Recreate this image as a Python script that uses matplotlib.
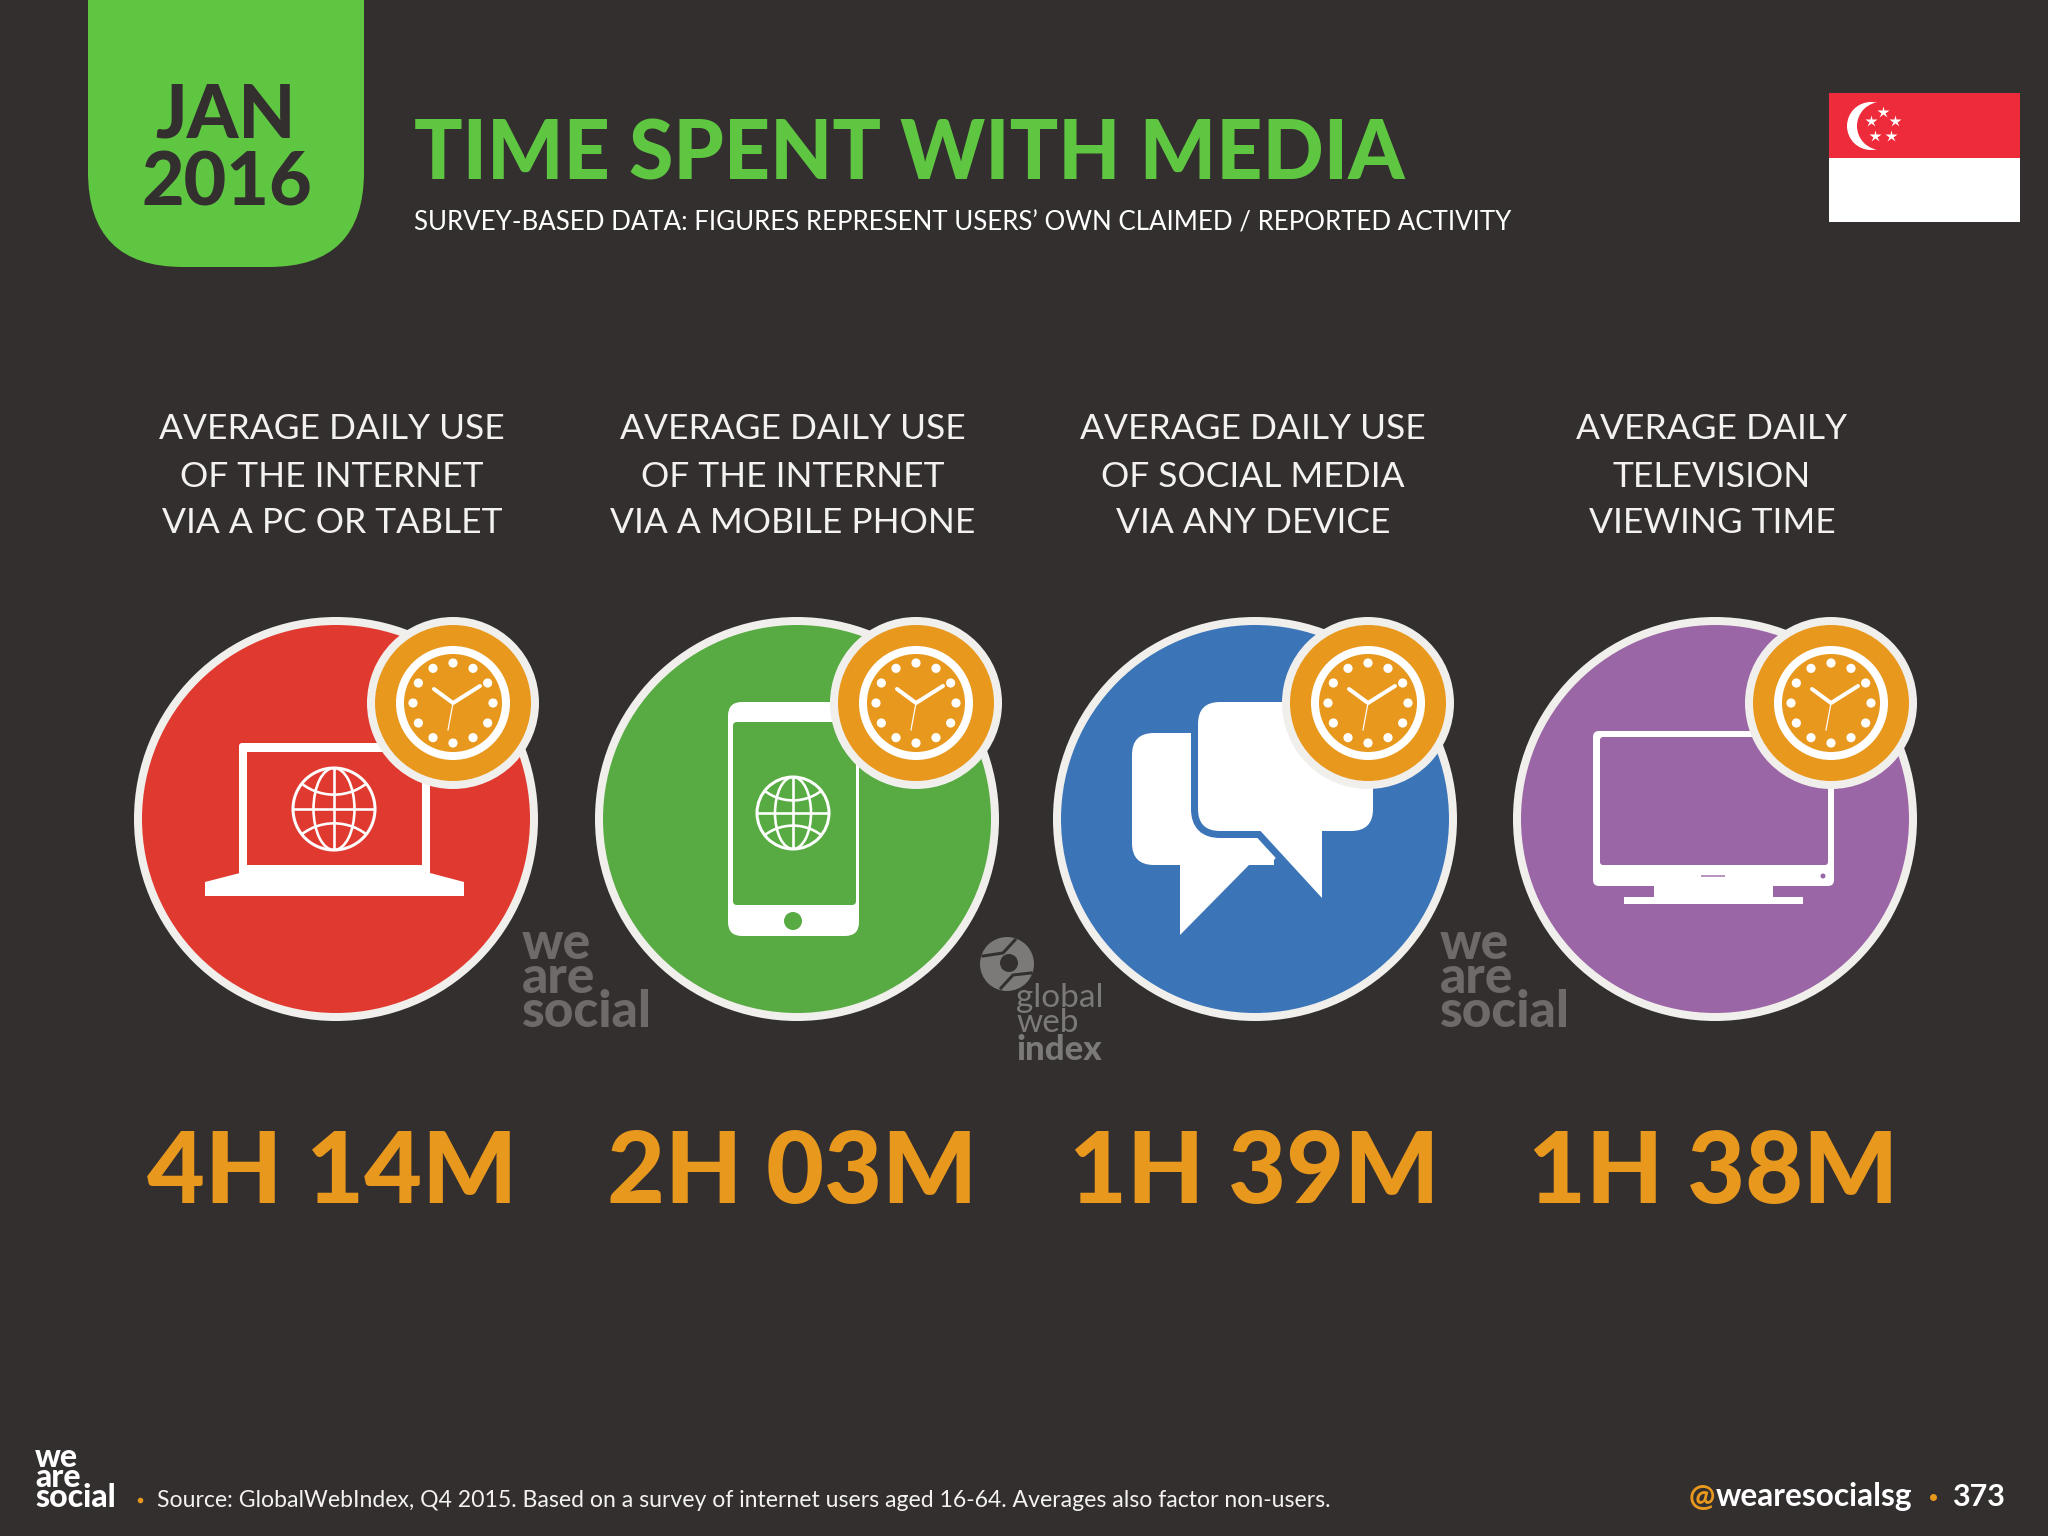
import numpy as np
import matplotlib
matplotlib.use("Agg")
import matplotlib.pyplot as plt
from matplotlib.patches import Circle, Ellipse, FancyBboxPatch, Polygon, Rectangle

plt.rcParams['font.family'] = ['Lato', 'DejaVu Sans']

# the four numbers
categories = [
    ["AVERAGE DAILY USE", "OF THE INTERNET", "VIA A PC OR TABLET"],
    ["AVERAGE DAILY USE", "OF THE INTERNET", "VIA A MOBILE PHONE"],
    ["AVERAGE DAILY USE", "OF SOCIAL MEDIA", "VIA ANY DEVICE"],
    ["AVERAGE DAILY", "TELEVISION", "VIEWING TIME"],
]
hours = [4, 2, 1, 1]
minutes = [14, 3, 39, 38]

title = "TIME SPENT WITH MEDIA"
subtitle = "SURVEY-BASED DATA: FIGURES REPRESENT USERS’ OWN CLAIMED / REPORTED ACTIVITY"
source = "Source: GlobalWebIndex, Q4 2015. Based on a survey of internet users aged 16-64. Averages also factor non-users."

BG = "#332F2F"
GREEN = "#5FC642"
ORANGE = "#E8981D"
RING = "#F1EFEC"
GREY = "#6E6A6A"
disc_colors = ["#E03A30", "#57AB42", "#3B75B8", "#9B66A6"]
disc_x = [336, 797, 1255, 1715]
clock_x = [453, 916, 1368, 1831]
text_x = [332, 793, 1253, 1712]
value_x = [332, 792, 1254, 1713]
DISC_Y = 819
CLOCK_Y = 703


def px(n):
    """line width in points from pixels, figure is 100 dpi"""
    return n * 0.72


def rrect(ax, x0, y0, x1, y1, r, color, z, **kw):
    p = FancyBboxPatch((x0, y0), x1 - x0, y1 - y0, boxstyle=f"round,pad=0,rounding_size={r}",
                       fc=color, ec=kw.pop("ec", "none"), zorder=z, **kw)
    ax.add_patch(p)
    return p


def draw_globe(ax, cx, cy, r, z):
    clip = Circle((cx, cy), r, transform=ax.transData)
    lw = px(2.6)
    parts = [
        Ellipse((cx, cy), r * 1.0, 2 * r, fc="none", ec="white", lw=lw),
        Ellipse((cx, cy - r * 1.55), 2.5 * r, 2.4 * r, fc="none", ec="white", lw=lw),
        Ellipse((cx, cy + r * 1.55), 2.5 * r, 2.4 * r, fc="none", ec="white", lw=lw),
    ]
    for p in parts:
        p.set_zorder(z)
        ax.add_patch(p)
        p.set_clip_path(clip)
    ax.plot([cx - r, cx + r], [cy, cy], color="white", lw=lw, zorder=z, solid_capstyle="butt")
    ax.plot([cx, cx], [cy - r, cy + r], color="white", lw=lw, zorder=z, solid_capstyle="butt")
    ax.add_patch(Circle((cx, cy), r, fc="none", ec="white", lw=px(3), zorder=z))


def draw_clock(ax, cx, cy):
    ax.add_patch(Circle((cx, cy), 86, fc=RING, ec="none", zorder=10))
    ax.add_patch(Circle((cx, cy), 78, fc=ORANGE, ec="none", zorder=11))
    ax.add_patch(Circle((cx, cy), 57, fc="white", ec="none", zorder=12))
    ax.add_patch(Circle((cx, cy), 49, fc=ORANGE, ec="none", zorder=13))
    for a in np.deg2rad(np.arange(0, 360, 30)):
        ax.add_patch(Circle((cx + 40 * np.cos(a), cy + 40 * np.sin(a)), 4.6, fc="white", ec="none", zorder=14))
    ax.plot([cx - 19, cx, cx + 27], [cy - 14, cy, cy - 17], color="white", lw=px(4),
            solid_capstyle="round", solid_joinstyle="miter", zorder=14)
    ax.plot([cx, cx - 5], [cy, cy + 27], color="white", lw=px(1.2), zorder=14)


def draw_laptop(ax, color):
    rrect(ax, 239, 743, 430, 880, 3, "white", 3)
    ax.add_patch(Rectangle((247, 752), 175, 113, fc=color, ec="none", zorder=4))
    ax.add_patch(Polygon([(240, 873), (430, 873), (464, 882), (464, 896), (205, 896), (205, 882)],
                         fc="white", ec="none", zorder=3))
    draw_globe(ax, 334, 809, 41, 5)


def draw_phone(ax, color):
    rrect(ax, 728, 702, 859, 936, 14, "white", 3)
    rrect(ax, 733, 722, 856, 905, 4, color, 4)
    ax.add_patch(Circle((793, 921), 9, fc=color, ec="none", zorder=5))
    draw_globe(ax, 793, 813, 36, 5)


def draw_chat(ax, color):
    rrect(ax, 1132, 733, 1280, 865, 22, "white", 3)
    ax.add_patch(Polygon([(1180, 845), (1274, 845), (1274, 865), (1249, 865), (1180, 935)],
                         fc="white", ec="none", zorder=3))
    # front bubble with an outline in the disc colour, this makes the gap to the back one
    gap = px(14)
    rrect(ax, 1198, 702, 1373, 831, 22, color, 4, ec=color, lw=gap)
    ax.add_patch(Polygon([(1255, 825), (1322, 825), (1322, 898)], fc=color, ec=color, lw=gap, zorder=4))
    rrect(ax, 1198, 702, 1373, 831, 22, "white", 5)
    ax.add_patch(Polygon([(1255, 825), (1322, 825), (1322, 898)], fc="white", ec="none", zorder=5))


def draw_tv(ax, color):
    rrect(ax, 1593, 731, 1834, 886, 6, "white", 3)
    rrect(ax, 1600, 737, 1828, 865, 3, color, 4)
    ax.add_patch(Rectangle((1654, 885), 119, 13, fc="white", ec="none", zorder=3))
    ax.add_patch(Rectangle((1624, 897), 179, 7, fc="white", ec="none", zorder=3))
    ax.add_patch(Circle((1823, 876), 2.5, fc=color, ec="none", zorder=5))
    ax.plot([1702, 1724], [876, 876], color=color, lw=px(2), alpha=0.7, zorder=5)


def draw_logo(ax, x, y, color, size, spacing):
    # y is the baseline of the last line
    ax.text(x, y, "we\nare\nsocial", color=color, fontsize=size, fontweight="black", linespacing=spacing,
            ha="left", va="baseline", zorder=2)


def draw_gwi(ax):
    cx, cy = 1007, 964
    ax.add_patch(Circle((cx, cy), 27, fc="#7C7979", ec="none", zorder=2))
    ax.add_patch(Circle((cx + 2, cy - 1), 9, fc=BG, ec="none", zorder=3))
    ax.plot([cx - 24, cx - 4, cx + 8], [cy - 8, cy - 11, cy - 24], color=BG, lw=px(3), zorder=3)
    ax.plot([cx + 24, cx + 6, cx - 6], [cy + 9, cy + 11, cy + 24], color=BG, lw=px(3), zorder=3)
    ax.text(1016, 1032, "global\nweb", color="#7C7979", fontsize=24, linespacing=0.78, va="baseline", zorder=2)
    ax.text(1016, 1060, "index", color="#7C7979", fontsize=25, fontweight="black", va="baseline", zorder=2)


def draw_flag(ax):
    red = "#EE2B3B"
    ax.add_patch(Rectangle((1829, 93), 191, 65, fc=red, ec="none", zorder=2))
    ax.add_patch(Rectangle((1829, 158), 191, 64, fc="white", ec="none", zorder=2))
    ax.add_patch(Circle((1871, 126), 24, fc="white", ec="none", zorder=3))
    ax.add_patch(Circle((1881, 126), 24, fc=red, ec="none", zorder=4))
    a = np.deg2rad(np.array([-90, -18, 54, 126, 198]))
    ax.plot(1883 + 13 * np.cos(a), 125 + 13 * np.sin(a), ls="none", marker="*", ms=9, mfc="white", mec="none", zorder=5)


fig = plt.figure(figsize=(20.48, 15.36), dpi=100, facecolor=BG)
ax = fig.add_axes([0, 0, 1, 1])
ax.set_xlim(0, 2048)
ax.set_ylim(1536, 0)
ax.set_aspect("equal")
ax.axis("off")

# header
rrect(ax, 88, -120, 364, 267, 95, GREEN, 1)
ax.text(225, 137, "JAN", color=BG, fontsize=53, fontweight="black", ha="center", va="baseline", zorder=2)
ax.text(227, 205, "2016", color=BG, fontsize=53, fontweight="black", ha="center", va="baseline", zorder=2)
ax.text(414, 180, title, color=GREEN, fontsize=58, fontweight="black", ha="left", va="baseline")
ax.text(414, 231, subtitle, color="white", fontsize=18.6, ha="left", va="baseline")
draw_flag(ax)

# columns
for i in range(4):
    for j, line in enumerate(categories[i]):
        ax.text(text_x[i], [439, 487, 533][j], line, color="#F4F2F0", fontsize=25.5,
                ha="center", va="baseline")
    ax.add_patch(Circle((disc_x[i], DISC_Y), 198, fc=disc_colors[i], ec=RING, lw=px(8), zorder=2))
    ax.text(value_x[i], 1203, f"{hours[i]}H {minutes[i]:02d}M", color=ORANGE, fontsize=72, fontweight="black",
            ha="center", va="baseline")

draw_laptop(ax, disc_colors[0])
draw_phone(ax, disc_colors[1])
draw_chat(ax, disc_colors[2])
draw_tv(ax, disc_colors[3])
for x in clock_x:
    draw_clock(ax, x, CLOCK_Y)

draw_logo(ax, 522, 1027, GREY, 37, 0.66)
draw_logo(ax, 1440, 1027, GREY, 37, 0.66)
draw_gwi(ax)

# footer
draw_logo(ax, 35, 1507, "white", 23, 0.62)
ax.plot([140], [1500], marker="o", ms=3, color=ORANGE)
ax.text(157, 1507, source, color="#F4F2F0", fontsize=16.6, ha="left", va="baseline")
ax.text(1689, 1506, "@", color=ORANGE, fontsize=22.5, fontweight="bold", ha="left", va="baseline")
ax.text(1716, 1506, "wearesocialsg", color="white", fontsize=22.8, fontweight="bold", ha="left", va="baseline")
ax.plot([1933], [1497], marker="o", ms=4, color=ORANGE)
ax.text(2005, 1506, "373", color="white", fontsize=22, fontweight="bold", ha="right", va="baseline")

fig.savefig("out.png", dpi=100, facecolor=BG)
